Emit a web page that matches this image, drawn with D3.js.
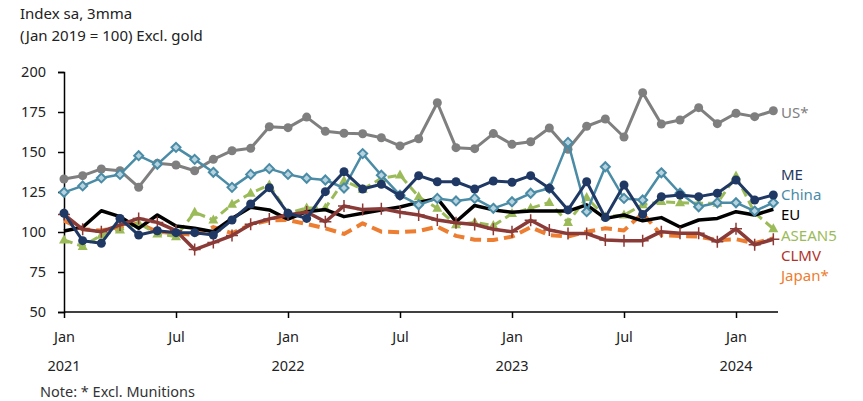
<!DOCTYPE html>
<html>
<head>
<meta charset="utf-8">
<script src="https://cdn.jsdelivr.net/npm/d3@7"></script>
<style>
  html, body { margin: 0; padding: 0; background: #fff; }
  svg { display: block; }
  text { font-family: "Noto Sans", "DejaVu Sans", sans-serif; }
</style>
</head>
<body>
<svg id="chart" width="863" height="401"></svg>
<script>
// Monthly index, Jan 2021 – Mar 2024 (39 months)
const us     = [133.1,135.2,139.4,138.3,128,142.9,141.9,138.3,145.4,150.8,152.3,165.8,165.2,171.8,162.9,161.7,161.4,158.9,153.8,158.3,180.8,152.7,152.1,161.5,154.8,156.4,165,151.7,166.1,170.6,159.4,187.1,167.5,170,177.7,167.7,174.2,172.1,175.8];
const me     = [111.7,94.6,93,108.5,98.1,100.8,99.6,99.6,98.1,107.5,117.5,127.7,111.7,108.5,125.2,137.7,126.9,129.8,122.7,135.2,131.4,131.4,126.9,131.9,131.1,135.2,127.3,113.8,131.4,109,129.4,111,122.1,123.1,122.1,124.2,132.5,120,123.1];
const china  = [124.8,128.8,133.8,136,147.7,142.3,152.9,145.4,137.3,127.9,136,139.6,136,133.6,132.5,127.5,149,135.5,123,117,121,119.4,121,114.8,118.9,124.2,127.3,156,112.7,140.8,121,120,137,124.2,115.8,118.3,118.3,113.1,118.3];
const eu     = [100.6,103,113.3,109.6,102.3,110.6,103.8,102.3,100.2,108.5,115.4,113.8,108,112.7,114,109.6,111.7,113.8,115.6,118.5,121,106.4,116.6,113.8,112.4,113.1,113.1,113.1,117,108.5,110.6,107,109,103.1,107.5,108.5,112.7,110.6,114.2];
const asean5 = [95,91,98,101.3,105.4,98.8,97.1,112.4,107.5,117.3,124.2,129.4,111.7,115,115,132,126.7,133.5,135.6,122,114.8,104.5,106,104,111.5,114.8,118.5,106,121.5,109.5,110.6,117,119,118.3,118,118,135,112,102];
const clmv   = [111,101.7,100.2,104.4,108.5,106,100.8,89,93.4,97.8,104.9,108.2,110.6,112.5,106.4,116.3,114,114.6,112.4,110.6,107.5,105.8,104.7,101.7,100.2,107.3,101.25,99,99,95,94.6,94.6,100.2,99.2,99.2,93.9,102,92,95.5];
const japan  = [107,101.7,100.9,103.3,105.4,100.2,99.2,98.1,103.1,99.2,104.7,107.3,107.5,105,102.3,98.8,105.4,100.2,99.9,100.6,103.3,97.6,95.2,95,97.1,103,98.1,97.1,100.2,102.3,101,111.7,98.1,97.5,97.1,95,95.5,93,96];

const yTicks = [50, 75, 100, 125, 150, 175, 200];
const xTickMonths = [0, 6, 12, 18, 24, 30, 36];
const xTickLabels = ["Jan", "Jul", "Jan", "Jul", "Jan", "Jul", "Jan"];
const yearLabels = ["2021", "", "2022", "", "2023", "", "2024"];

const titleLines = ["Index sa, 3mma", "(Jan 2019 = 100) Excl. gold"];
const noteText = "Note: * Excl. Munitions";

// series styling, drawn bottom to top
const series = [
  { name: "US*",    values: us,     color: "#7f7f7f", text: "#7f7f7f", width: 3,   marker: "circle",   ly: 113 },
  { name: "Japan*", values: japan,  color: "#ed7d31", text: "#ed7d31", width: 4,   dash: "11 6",       ly: 276 },
  { name: "ASEAN5", values: asean5, color: "#9bbb59", text: "#9bbb59", width: 3,   dash: "9 5", marker: "triangle", ly: 236 },
  { name: "EU",     values: eu,     color: "#000000", text: "#000000", width: 3.5,                     ly: 215 },
  { name: "CLMV",   values: clmv,   color: "#8a3b37", text: "#b0332a", width: 3.5, marker: "plus",     ly: 256 },
  { name: "China",  values: china,  color: "#4a8ba6", text: "#4a8ba6", width: 2.5, marker: "diamond",  ly: 195 },
  { name: "ME",     values: me,     color: "#1f3864", text: "#1f3864", width: 3,   marker: "circle",   ly: 175 }
];

const svg = d3.select("#chart");
const plotLeft = 64, plotRight = 778, plotTop = 72, plotBottom = 312;

const x = d3.scaleLinear().domain([0, 38.25]).range([plotLeft, plotRight]);
const y = d3.scaleLinear().domain([50, 200]).range([plotBottom, plotTop]);

// titles
svg.selectAll("text.title").data(titleLines).join("text")
  .attr("class", "title")
  .attr("x", 20).attr("y", (d, i) => 19 + i * 22)
  .attr("font-size", 15).attr("fill", "#222")
  .text(d => d);

// y axis
const yAxis = svg.append("g").attr("transform", `translate(${plotLeft},0)`)
  .call(d3.axisLeft(y).tickValues(yTicks).tickSize(6).tickPadding(12));
yAxis.select(".domain").attr("stroke", "#000").attr("stroke-width", 1.5);
yAxis.selectAll(".tick line").attr("stroke", "#000").attr("stroke-width", 1.5);
yAxis.selectAll(".tick text").attr("font-size", 14.5).attr("fill", "#222")
  .attr("font-family", "'Noto Sans', sans-serif");

// x axis
const xAxis = svg.append("g").attr("transform", `translate(0,${plotBottom})`)
  .call(d3.axisBottom(x).tickValues(xTickMonths).tickSize(6)
    .tickFormat((d, i) => xTickLabels[i]).tickPadding(14));
xAxis.select(".domain").attr("stroke", "#000").attr("stroke-width", 1.5)
  .attr("d", `M${plotLeft},0H${plotRight}`);
xAxis.selectAll(".tick line").attr("stroke", "#000").attr("stroke-width", 1.5);
xAxis.selectAll(".tick text").attr("font-size", 14.5).attr("fill", "#222")
  .attr("font-family", "'Noto Sans', sans-serif");

svg.append("g").selectAll("text").data(xTickMonths).join("text")
  .attr("x", d => x(d)).attr("y", 371)
  .attr("text-anchor", "middle").attr("font-size", 14.5).attr("fill", "#222")
  .text((d, i) => yearLabels[i]);

// note
svg.append("text").attr("x", 40).attr("y", 397)
  .attr("font-size", 14.5).attr("fill", "#333").text(noteText);

// lines and markers
const line = d3.line().x((d, i) => x(i)).y(d => y(d));
const plot = svg.append("g");

series.forEach(s => {
  const g = plot.append("g");
  g.append("path")
    .attr("d", line(s.values))
    .attr("fill", "none")
    .attr("stroke", s.color)
    .attr("stroke-width", s.width)
    .attr("stroke-linejoin", "round")
    .attr("stroke-dasharray", s.dash || null);

  const pts = g.selectAll("g.pt").data(s.values).join("g")
    .attr("transform", (d, i) => `translate(${x(i)},${y(d)})`);

  if (s.marker === "circle") {
    pts.append("circle").attr("r", 4.5).attr("fill", s.color);
  } else if (s.marker === "diamond") {
    pts.append("path").attr("d", "M0,-4.5L4.5,0L0,4.5L-4.5,0Z")
      .attr("fill", "#b7d3df").attr("stroke", s.color).attr("stroke-width", 2);
  } else if (s.marker === "triangle") {
    pts.append("path").attr("d", "M0,-5.5L5,3.5L-5,3.5Z").attr("fill", s.color);
  } else if (s.marker === "plus") {
    pts.append("path").attr("d", "M-6,0H6M0,-6V6")
      .attr("stroke", s.color).attr("stroke-width", 1.5);
  }
});

// series labels at the right end
svg.append("g").selectAll("text").data(series).join("text")
  .attr("x", 781).attr("y", d => d.ly).attr("dy", "0.35em")
  .attr("font-size", 15).attr("fill", d => d.text)
  .text(d => d.name);
</script>
</body>
</html>
